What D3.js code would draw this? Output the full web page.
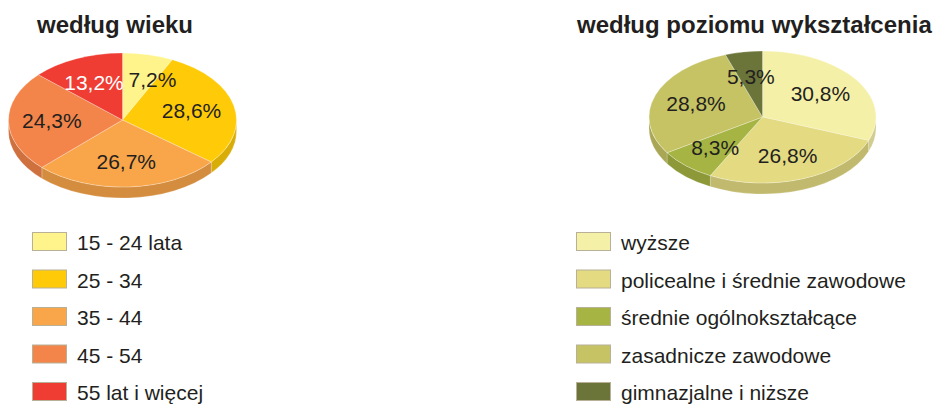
<!DOCTYPE html>
<html>
<head>
<meta charset="utf-8">
<script src="https://cdn.jsdelivr.net/npm/d3@7"></script>
<style>
  body { margin: 0; background: #fff; }
  svg { display: block; font-family: "Liberation Sans", Arial, Helvetica, sans-serif; }
</style>
</head>
<body>
<div id="chart"></div>
<script>
// ===============================
// Data
// ===============================

const ageLabels = ["15 - 24 lata", "25 - 34", "35 - 44", "45 - 54", "55 lat i więcej"];
const ageValues = [7.2, 28.6, 26.7, 24.3, 13.2];
const ageColors = ["#fff48b", "#ffcb08", "#f9a64a", "#f3854a", "#ef3d33"];

const eduLabels = ["wyższe", "policealne i średnie zawodowe", "średnie ogólnokształcące", "zasadnicze zawodowe", "gimnazjalne i niższe"];
const eduValues = [30.8, 26.8, 8.3, 28.8, 5.3];
const eduColors = ["#f5f0a8", "#e3da81", "#a5b443", "#c6c364", "#6b753a"];

const titles = ["według wieku", "według poziomu wykształcenia"];

// ===============================
// Setup
// ===============================

const width = 933;
const height = 405;
const textColor = "#231f20";

const svg = d3.select("#chart")
    .append("svg")
    .attr("width", width)
    .attr("height", height);

const fmt = v => d3.format(".1f")(v).replace(".", ",") + "%";

// =========================
// 3D pie
// =========================

const drawPie = (opts) => {

    const { values, colors, cx, cy, rx, ry, depth, whiteIndex } = opts;

    const pie = d3.pie().sort(null).value(d => d)(values);

    const pt = (a, r = 1, dy = 0) => [cx + r * rx * Math.sin(a), cy - r * ry * Math.cos(a) + dy];

    const g = svg.append("g");

    // side walls (front half only)
    pie.forEach((d, i) => {
        const s = Math.max(d.startAngle, Math.PI / 2);
        const e = Math.min(d.endAngle, Math.PI * 1.5);
        if (e <= s) return;
        const [x0, y0] = pt(s);
        const [x1, y1] = pt(e);
        const path = `M${x0},${y0} A${rx},${ry} 0 0 1 ${x1},${y1} L${x1},${y1 + depth} A${rx},${ry} 0 0 0 ${x0},${y0 + depth} Z`;
        g.append("path")
            .attr("d", path)
            .attr("fill", d3.color(colors[i]).darker(0.45))
            .attr("stroke", "#ffffff")
            .attr("stroke-opacity", 0.35)
            .attr("stroke-width", 0.6);
    });

    // top faces
    g.selectAll("path.top")
        .data(pie)
        .join("path")
        .attr("class", "top")
        .attr("d", d => {
            const [x0, y0] = pt(d.startAngle);
            const [x1, y1] = pt(d.endAngle);
            const large = d.endAngle - d.startAngle > Math.PI ? 1 : 0;
            return `M${cx},${cy} L${x0},${y0} A${rx},${ry} 0 ${large} 1 ${x1},${y1} Z`;
        })
        .attr("fill", (d, i) => colors[i])
        .attr("stroke", "#ffffff")
        .attr("stroke-opacity", 0.45)
        .attr("stroke-width", 0.6);

    // labels
    g.selectAll("text")
        .data(pie)
        .join("text")
        .attr("x", d => pt((d.startAngle + d.endAngle) / 2, 0.62)[0])
        .attr("y", d => pt((d.startAngle + d.endAngle) / 2, 0.62)[1])
        .attr("dy", "0.36em")
        .attr("text-anchor", "middle")
        .style("font-size", "21px")
        .attr("fill", (d, i) => i === whiteIndex ? "#ffffff" : textColor)
        .text(d => fmt(d.data))
        .each(function (d) {
            // keep the first (small) slice label clear of the 12 o'clock edge
            if (d.index !== 0 || d.endAngle > Math.PI) return;
            const w = this.getComputedTextLength();
            const x = +d3.select(this).attr("x");
            if (x - w / 2 < cx + 6) d3.select(this).attr("x", cx + 6 + w / 2);
        });
};

drawPie({ values: ageValues, colors: ageColors, cx: 122.5, cy: 120, rx: 114, ry: 67, depth: 11, whiteIndex: 4 });
drawPie({ values: eduValues, colors: eduColors, cx: 762.5, cy: 117, rx: 113.5, ry: 66, depth: 11, whiteIndex: -1 });

// =========================
// Titles
// =========================

svg.selectAll("text.title")
    .data(titles)
    .join("text")
    .attr("class", "title")
    .attr("x", (d, i) => i === 0 ? 37 : 577)
    .attr("y", 33)
    .style("font-size", "24px")
    .style("font-weight", "bold")
    .attr("fill", textColor)
    .text(d => d);

// =========================
// Legends
// =========================

const drawLegend = (labels, colors, x0) => {

    const y = d3.scaleBand()
        .domain(labels)
        .range([232, 232 + 37.5 * labels.length]);

    const row = svg.append("g")
        .selectAll("g")
        .data(labels)
        .join("g")
        .attr("transform", d => `translate(${x0},${y(d)})`);

    row.append("rect")
        .attr("x", 0.5)
        .attr("y", 0.5)
        .attr("width", 34)
        .attr("height", 18)
        .attr("fill", (d, i) => colors[i])
        .attr("stroke", "#b8b198")
        .attr("stroke-width", 1);

    row.append("text")
        .attr("x", 45)
        .attr("y", 18)
        .style("font-size", "21px")
        .attr("fill", textColor)
        .text(d => d);
};

drawLegend(ageLabels, ageColors, 32);
drawLegend(eduLabels, eduColors, 576);
</script>
</body>
</html>
